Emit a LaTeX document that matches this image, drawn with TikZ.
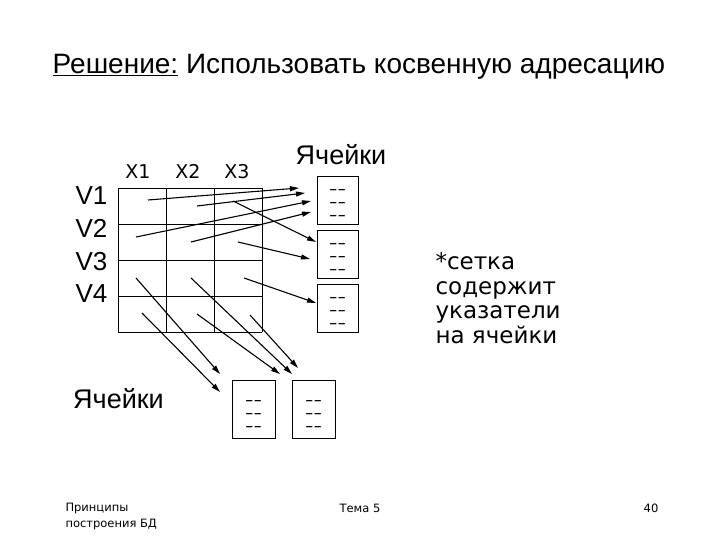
\documentclass[tikz,border=0pt]{standalone}
\usepackage{fontspec}
\setmainfont{Liberation Sans}
\newfontfamily\verd{DejaVu Sans}
\usetikzlibrary{arrows.meta}

% three rows of dashes, #1 = height of the first row
\newcommand{\dashrows}[1]{\rule{0pt}{#1}–\kern1.5pt–\\–\kern1.5pt–\\–\kern1.5pt–}

\begin{document}
\begin{tikzpicture}[
  x=1pt, y=-1pt,
  ptr/.style={-{Triangle[length=9pt,width=5pt]}, line width=1.1pt},
  cellbox/.style={draw, line width=0.8pt, minimum width=41pt, minimum height=48pt,
    inner sep=0pt, align=center, font=\bfseries\fontsize{12.5}{13}\selectfont},
  lowbox/.style={cellbox, minimum width=43pt, minimum height=58pt},
  head/.style={font=\verd\fontsize{19}{22}\selectfont, anchor=base},
  big/.style={font=\fontsize{26}{32}\selectfont, anchor=base west},
  word/.style={font=\fontsize{27}{30}\selectfont, anchor=base},
  foot/.style={font=\verd\fontsize{11.5}{16}\selectfont, align=left},
]
\useasboundingbox (0,0) rectangle (720,540);

% === TITLE ===
\node[font=\fontsize{28}{32}\selectfont, anchor=base] (title) at (359,74)
  {\underline{Решение:} Использовать косвенную адресацию};

% === ROW / COLUMN LABELS ===
\node[big] (v1) at (72,205) {V1};
\node[big] (v2) at (72,237) {V2};
\node[big] (v3) at (72,270) {V3};
\node[big] (v4) at (72,302) {V4};
\node[head] (x1) at (138,179) {X1};
\node[head] (x2) at (188,179) {X2};
\node[head] (x3) at (237,179) {X3};

% === GRID ===
\foreach \gx in {118,166,214,262}
  \draw[line width=0.8pt] (\gx,188) -- (\gx,332);
\foreach \gy in {188,224,260,296,332}
  \draw[line width=0.8pt] (118,\gy) -- (262,\gy);

% === CELLS ===
\node[word] (celltop) at (341,165) {Ячейки};
\node[cellbox] (c1) at (337.5,200) {\dashrows{12.6pt}};
\node[cellbox] (c2) at (337.5,254) {\dashrows{12.6pt}};
\node[cellbox] (c3) at (337.5,308) {\dashrows{12.6pt}};

\node[word] (cellbot) at (118.5,408) {Ячейки};
\node[lowbox] (c4) at (253.5,409) {\dashrows{16.6pt}};
\node[lowbox] (c5) at (313.5,409) {\dashrows{16.6pt}};

\node[font=\verd\fontsize{23}{24.5}\selectfont, align=left, anchor=base west] (note) at (432,343)
  {*сетка\\содержит\\указатели\\на ячейки};

% === POINTERS ===
\foreach \i/\sx/\sy/\ex/\ey in {
    1/148/200/299/188, 2/197/206/305/193, 3/136/237/311/201,
    4/191/242/311/212, 5/233/201/316/242, 6/238/242/310/259,
    7/244/278/316/303, 8/136/278/220/374, 9/142/313/220/392,
    10/191/278/292/374, 11/197/314/280/374, 12/250/315/298/368} {
  \coordinate (p\i) at (\sx,\sy);
  \coordinate (q\i) at (\ex,\ey);
  \draw[ptr] (p\i) -- (q\i);
}

% === FOOTER ===
\node[foot, anchor=base west] (course) at (62,527) {Принципы\\построения БД};
\node[foot, anchor=base] (topic) at (360,512) {Тема 5};
\node[foot, anchor=base] (page) at (651,512) {40};
\end{tikzpicture}
\end{document}
